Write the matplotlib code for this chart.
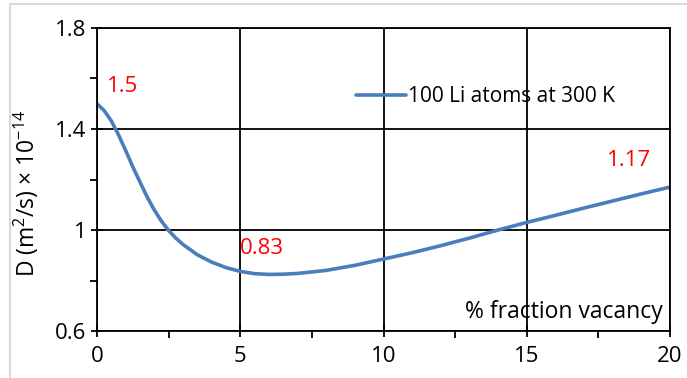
import matplotlib
matplotlib.use("Agg")
import matplotlib.pyplot as plt
from matplotlib.patches import Rectangle
from matplotlib.ticker import MultipleLocator

plt.rcParams['font.family'] = ['Open Sans', 'DejaVu Sans']
plt.rcParams['mathtext.fontset'] = 'custom'
plt.rcParams['mathtext.rm'] = 'Open Sans'
plt.rcParams['mathtext.it'] = 'Open Sans'
plt.rcParams['mathtext.default'] = 'regular'

vacancy = [0, 0.25, 0.5, 0.75, 1, 1.25, 1.5, 1.75, 2, 2.25, 2.5, 2.75, 3, 3.5, 4, 4.5, 5, 5.5, 6, 6.5, 7, 8, 9, 10, 11, 12, 13, 14, 15, 16, 17, 18, 19, 20]
diffusion = [1.5, 1.473, 1.432, 1.377, 1.315, 1.25, 1.19, 1.131, 1.079, 1.035, 0.998, 0.968, 0.943, 0.902, 0.873, 0.851, 0.836, 0.827, 0.824, 0.825, 0.828, 0.84, 0.86, 0.885, 0.91, 0.938, 0.968, 1.0, 1.03, 1.058, 1.087, 1.115, 1.143, 1.17]
annotations = [("1.5", 0.35, 1.57), ("0.83", 4.97, 0.925), ("1.17", 17.8, 1.277)]
series_label = "100 Li atoms at 300 K"

fig = plt.figure(figsize=(6.87, 3.78), dpi=100)
fig.patches.append(Rectangle((10/687, -0.1), 1.2, 1.1 - 4/378, transform=fig.transFigure,
                             fill=False, edgecolor='#d9d9d9', linewidth=1.5))
ax = fig.add_axes([97/687, 1-331/378, (670-97)/687, (331-28)/378])

ax.plot(vacancy, diffusion, color='#4a7ebb', linewidth=2.6, label=series_label, solid_capstyle='round')
ax.set_xlim(0, 20)
ax.set_ylim(0.6, 1.8)
ax.xaxis.set_major_locator(MultipleLocator(5))
ax.xaxis.set_minor_locator(MultipleLocator(2.5))
ax.yaxis.set_minor_locator(MultipleLocator(0.2))
ax.set_yticks([0.6, 1.0, 1.4, 1.8])
ax.set_yticklabels(["0.6", "1", "1.4", "1.8"])
ax.grid(True, which='major', color='black', linewidth=1.3)
for s in ax.spines.values():
    s.set_color('black')
    s.set_linewidth(1.3)
ax.tick_params(which='major', direction='inout', length=9, width=1.3, labelsize=16, pad=3)
ax.tick_params(which='minor', direction='out', length=5, width=1.3)
ax.tick_params(axis='x', pad=6)

for txt, x, y in annotations:
    ax.text(x, y, txt, color='red', fontsize=16, ha='left', va='center')

ax.text(0.988, 0.063, "% fraction vacancy", transform=ax.transAxes, ha='right', va='center', fontsize=16.5)
fig.text(26/687, 1-193/378, "D (m$^2$/s) × 10$^{-14}$", rotation=90, ha='center', va='center', fontsize=16.5)

ax.legend(loc='upper left', bbox_to_anchor=((348-97)/573, 1-50/303), frameon=False, fontsize=15,
          handlelength=2.4, handletextpad=0.1, borderaxespad=0)

fig.savefig("out.png", dpi=100)
